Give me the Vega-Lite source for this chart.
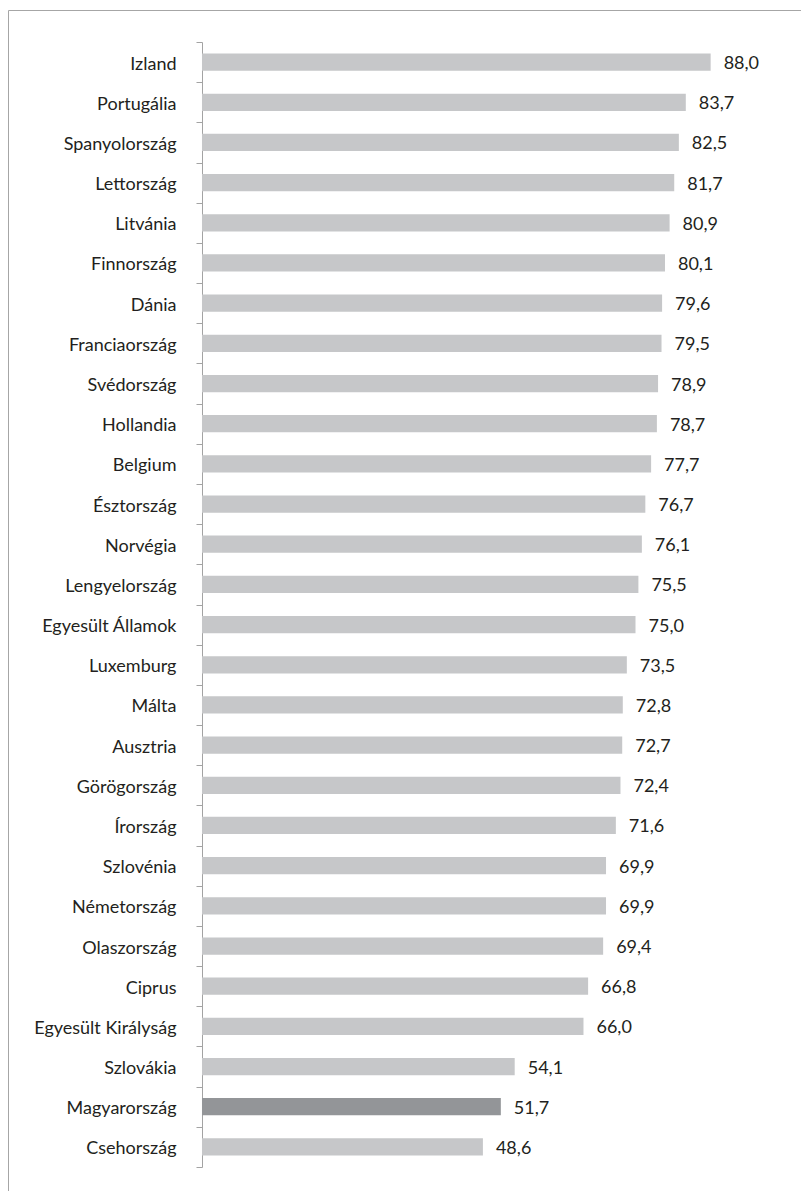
{
  "$schema": "https://vega.github.io/schema/vega-lite/v6.json",
  "autosize": {"type": "none"},
  "padding": {"left": 8, "top": 10, "right": 0, "bottom": 0},
  "width": 793,
  "height": 1181,
  "background": "white",
  "config": {
    "view": {"stroke": "#a6a6a6", "strokeWidth": 1},
    "locale": {"number": {"decimal": ",", "thousands": " ", "grouping": [3], "currency": ["", ""]}}
  },
  "data": {
    "values": [
      {"country": "Izland", "value": 88.0},
      {"country": "Portugália", "value": 83.7},
      {"country": "Spanyolország", "value": 82.5},
      {"country": "Lettország", "value": 81.7},
      {"country": "Litvánia", "value": 80.9},
      {"country": "Finnország", "value": 80.1},
      {"country": "Dánia", "value": 79.6},
      {"country": "Franciaország", "value": 79.5},
      {"country": "Svédország", "value": 78.9},
      {"country": "Hollandia", "value": 78.7},
      {"country": "Belgium", "value": 77.7},
      {"country": "Észtország", "value": 76.7},
      {"country": "Norvégia", "value": 76.1},
      {"country": "Lengyelország", "value": 75.5},
      {"country": "Egyesült Államok", "value": 75.0},
      {"country": "Luxemburg", "value": 73.5},
      {"country": "Málta", "value": 72.8},
      {"country": "Ausztria", "value": 72.7},
      {"country": "Görögország", "value": 72.4},
      {"country": "Írország", "value": 71.6},
      {"country": "Szlovénia", "value": 69.9},
      {"country": "Németország", "value": 69.9},
      {"country": "Olaszország", "value": 69.4},
      {"country": "Ciprus", "value": 66.8},
      {"country": "Egyesült Királyság", "value": 66.0},
      {"country": "Szlovákia", "value": 54.1},
      {"country": "Magyarország", "value": 51.7},
      {"country": "Csehország", "value": 48.6}
    ]
  },
  "encoding": {
    "y": {
      "field": "country",
      "type": "nominal",
      "sort": null,
      "scale": {"range": [32, 1157], "paddingInner": 0, "paddingOuter": 0},
      "axis": {
        "title": null,
        "offset": -194,
        "domainColor": "#a3a3a3",
        "tickColor": "#a3a3a3",
        "tickSize": 6,
        "tickBand": "extent",
        "grid": false,
        "labelFont": "Lato",
        "labelFontWeight": 400,
        "labelFontSize": 18,
        "labelColor": "#231f20",
        "labelPadding": 20,
        "labelOffset": 2,
        "labelLimit": 0
      }
    }
  },
  "layer": [
    {
      "mark": {"type": "bar", "height": {"band": 0.43}},
      "encoding": {
        "x": {"field": "value", "type": "quantitative", "scale": {"domain": [-33.56, 103.63], "nice": false}, "axis": null},
        "x2": {"datum": 0},
        "color": {"condition": {"test": "datum.country === 'Magyarország'", "value": "#939598"}, "value": "#c6c7c9"}
      }
    },
    {
      "mark": {"type": "text", "align": "left", "baseline": "middle", "dx": 13, "dy": 2, "font": "Lato", "fontWeight": 400, "fontSize": 18, "color": "#231f20"},
      "encoding": {
        "x": {"field": "value", "type": "quantitative"},
        "text": {"field": "value", "type": "quantitative", "format": ".1f"}
      }
    }
  ]
}
